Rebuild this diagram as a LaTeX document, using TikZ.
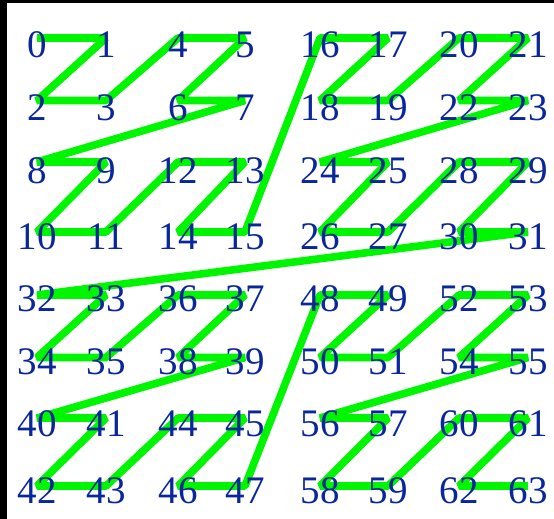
\documentclass[tikz,border=0pt]{standalone}
\usepackage{fontspec}
\setmainfont{Liberation Serif}
\definecolor{zgreen}{RGB}{0,245,0}
\definecolor{zblue}{RGB}{10,38,155}
\begin{document}
\begin{tikzpicture}[x=1pt,y=-1pt,
  zline/.style={draw=zgreen,line width=7.6pt,line join=bevel,line cap=butt},
  lab/.style={text=zblue,inner sep=0pt,anchor=center,font=\fontsize{39}{39}\selectfont}]
\useasboundingbox (0,0) rectangle (554,519);
\fill[black] (0,0) rectangle (554,519);
\fill[white] (7,3) rectangle (554,519);
\foreach \n in {0,...,63}{
  \pgfmathtruncatemacro\c{mod(\n,2)+2*mod(floor(\n/4),2)+4*mod(floor(\n/16),2)}
  \pgfmathtruncatemacro\r{mod(floor(\n/2),2)+2*mod(floor(\n/8),2)+4*mod(floor(\n/32),2)}
  \pgfmathsetmacro\xx{{37,106,178,245,320,388,459,528}[\c]}
  \pgfmathsetmacro\ly{{38,100.5,162,232,295,357.5,418,486}[\r]}
  \pgfmathsetmacro\ty{{45,108,171,236.5,298.5,361.5,424,491}[\r]}
  \coordinate (p\n) at (\xx,\ly);
  \coordinate (t\n) at (\xx,\ty);
}
\draw[zline] (p0) \foreach \n in {1,...,63}{ -- (p\n)};
\foreach \n in {0,...,63}{
  \node[lab] (l\n) at (t\n) {\n};
}
\end{tikzpicture}
\end{document}
